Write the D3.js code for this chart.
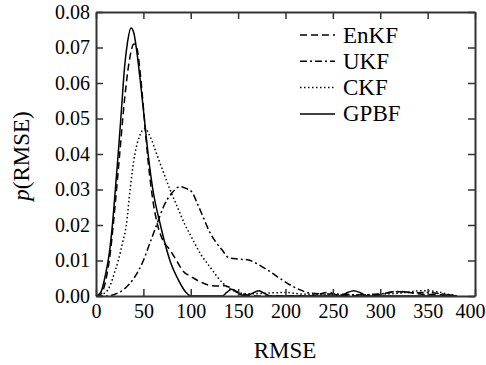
<!DOCTYPE html>
<html>
<head>
<meta charset="utf-8">
<script src="https://cdn.jsdelivr.net/npm/d3@7"></script>
</head>
<body style="margin:0;background:#fff">
<script>
// density curves: [RMSE, p]
const enkf = [[0,0],[5,0.0005],[10,0.004],[15,0.012],[20,0.025],[25,0.04],[30,0.055],[35,0.066],[40,0.071],[43,0.07],
  [47,0.062],[51,0.05],[55,0.038],[60,0.027],[65,0.02],[70,0.016],[78,0.013],[85,0.01],[92,0.007],[100,0.0055],
  [110,0.004],[120,0.003],[130,0.0028],[136,0.0029],[142,0.0023],[150,0.001],[160,0.0003],[170,0],[225,0],
  [235,0.0005],[245,0.001],[255,0.0003],[290,0],[305,0.0008],[320,0.0012],[335,0.0008],[350,0.0004],[370,0.0003],[380,0]];
const ukf = [[0,0],[10,0],[20,0.0005],[30,0.002],[40,0.005],[50,0.01],[57,0.015],[64,0.02],[71,0.025],[80,0.029],
  [89,0.0308],[95,0.0303],[101,0.0294],[107,0.026],[113,0.0223],[120,0.018],[127,0.015],[133,0.013],[140,0.0108],
  [150,0.0104],[160,0.0102],[167,0.0095],[175,0.0083],[184,0.0068],[195,0.0048],[205,0.0031],[215,0.0018],
  [226,0.0008],[240,0.0006],[260,0.0005],[280,0.0003],[300,0.0006],[320,0.0013],[335,0.0009],[350,0.001],[365,0.0006],[380,0]];
const ckf = [[0,0],[10,0.001],[15,0.003],[20,0.007],[23.5,0.01],[28,0.015],[32,0.02],[36,0.03],[41,0.04],[46,0.045],
  [51.7,0.0472],[57,0.045],[64,0.04],[71,0.035],[78,0.03],[86,0.025],[94,0.02],[100,0.017],[110,0.012],[120,0.0083],
  [134,0.0036],[148,0.0012],[160,0.0006],[180,0.0008],[200,0.001],[215,0.0006],[240,0.0004],[260,0.0003],
  [290,0.0004],[320,0.0008],[345,0.0015],[360,0.0012],[375,0.0003],[382,0]];
const gpbf = [[0,0],[5,0.001],[10,0.006],[14,0.012],[18,0.022],[21,0.032],[24,0.042],[27,0.053],[30,0.064],[33,0.071],
  [37,0.0755],[40,0.074],[43,0.069],[47,0.06],[51,0.05],[55,0.04],[60,0.03],[68,0.02],[78,0.01],[88,0.004],[95,0.001],
  [100,0],[133,0],[138,0.001],[143,0.0019],[149,0.001],[157,0],[163,0.0005],[172,0.0015],[178,0.0007],[184,0],
  [258,0],[265,0.0009],[272,0.0015],[279,0.0009],[286,0],[380,0]];

const seriesNames = ['EnKF', 'UKF', 'CKF', 'GPBF'];
const xTicks = [0, 50, 100, 150, 200, 250, 300, 350, 400];
const yTicks = [0, 0.01, 0.02, 0.03, 0.04, 0.05, 0.06, 0.07, 0.08];

const width = 486, height = 365;
const margin = { top: 12, right: 11, bottom: 69, left: 96 };
const dashes = ['7,4', '7,3,2,3', '1.5,2.5', null];
const curves = [enkf, ukf, ckf, gpbf];
const font = "'Liberation Serif'";

const svg = d3.select('body').append('svg')
  .attr('width', width)
  .attr('height', height)
  .style('display', 'block');

const x = d3.scaleLinear().domain([0, 400]).range([margin.left, width - margin.right]);
const y = d3.scaleLinear().domain([0, 0.08]).range([height - margin.bottom, margin.top]);

const lineGen = d3.line()
  .x(d => x(d[0]))
  .y(d => y(d[1]))
  .curve(d3.curveMonotoneX);

svg.append('g')
  .selectAll('path')
  .data(curves)
  .join('path')
    .attr('fill', 'none')
    .attr('stroke', '#000')
    .attr('stroke-width', 1.5)
    .attr('stroke-dasharray', (d, i) => dashes[i])
    .attr('d', lineGen);

function styleAxis(g) {
  g.attr('font-family', null).attr('font-size', null);
  g.select('.domain').attr('stroke', '#333').attr('stroke-width', 2);
  g.selectAll('.tick line').attr('stroke', '#333').attr('stroke-width', 1.5);
  g.selectAll('text')
    .attr('fill', '#000')
    .style('font-family', font)
    .attr('font-size', 20);
}

svg.append('g')
  .attr('transform', `translate(0,${height - margin.bottom})`)
  .call(d3.axisBottom(x).tickValues(xTicks).tickSize(-7).tickPadding(8).tickSizeOuter(0))
  .call(styleAxis)
  // the last label sits a little inside the frame, as in the original
  .call(g => g.selectAll('.tick text').filter(d => d === 400).attr('dx', -5));

svg.append('g')
  .attr('transform', `translate(0,${margin.top})`)
  .call(d3.axisTop(x).tickValues(xTicks).tickSize(-7).tickFormat('').tickSizeOuter(0))
  .call(styleAxis);

svg.append('g')
  .attr('transform', `translate(${margin.left},0)`)
  .call(d3.axisLeft(y).tickValues(yTicks).tickSize(-7).tickPadding(6).tickFormat(d3.format('.2f')).tickSizeOuter(0))
  .call(styleAxis);

svg.append('g')
  .attr('transform', `translate(${width - margin.right},0)`)
  .call(d3.axisRight(y).tickValues(yTicks).tickSize(-7).tickFormat('').tickSizeOuter(0))
  .call(styleAxis);

// axis titles
svg.append('text')
  .attr('x', 285)
  .attr('y', 358)
  .attr('text-anchor', 'middle')
  .attr('font-size', 23)
  .style('font-family', font)
  .text('RMSE');

const yl = svg.append('text')
  .attr('transform', 'translate(29,156) rotate(-90)')
  .attr('text-anchor', 'middle')
  .attr('font-size', 23)
  .style('font-family', font);
yl.append('tspan').style('font-style', 'italic').text('p');
yl.append('tspan').text('(RMSE)');

// legend
const legend = svg.append('g')
  .selectAll('g')
  .data(seriesNames)
  .join('g')
    .attr('transform', (d, i) => `translate(300,${35 + i * 26.3})`);

legend.append('line')
  .attr('x1', 0).attr('x2', 35)
  .attr('stroke', '#000')
  .attr('stroke-width', 1.5)
  .attr('stroke-dasharray', (d, i) => dashes[i]);

legend.append('text')
  .attr('x', 43)
  .attr('y', 7.5)
  .attr('font-size', 23)
  .style('font-family', font)
  .text(d => d);
</script>
</body>
</html>
